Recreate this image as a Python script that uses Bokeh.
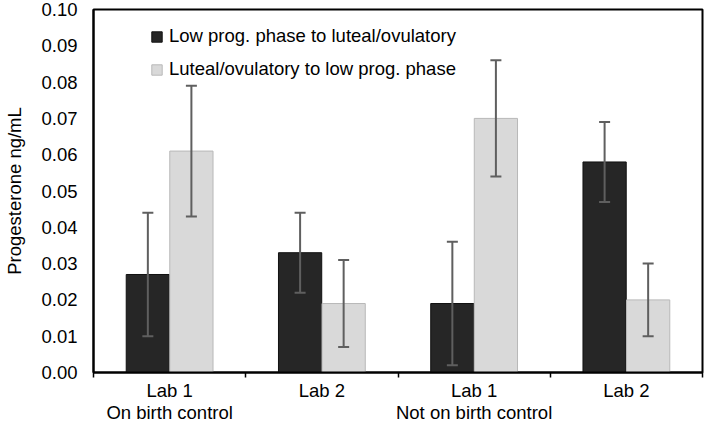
import numpy as np
from bokeh.plotting import figure
from bokeh.models import (Range1d, FixedTicker, ColumnDataSource, Whisker, Legend,
                          LegendItem, LinearAxis, TeeHead)
from bokeh.embed import file_html
from bokeh.resources import INLINE

# ---- data ----
groups = ["Lab 1\nOn birth control", "Lab 2", "Lab 1\nNot on birth control", "Lab 2"]
series_names = ["Low prog. phase to luteal/ovulatory", "Luteal/ovulatory to low prog. phase"]
low_to_luteal = [0.027, 0.033, 0.019, 0.058]
low_to_luteal_lower = [0.010, 0.022, 0.002, 0.047]
low_to_luteal_upper = [0.044, 0.044, 0.036, 0.069]
luteal_to_low = [0.061, 0.019, 0.070, 0.020]
luteal_to_low_lower = [0.043, 0.007, 0.054, 0.010]
luteal_to_low_upper = [0.079, 0.031, 0.086, 0.030]
y_ticks = [0.00, 0.01, 0.02, 0.03, 0.04, 0.05, 0.06, 0.07, 0.08, 0.09, 0.10]
y_tick_labels = ["0.00", "0.01", "0.02", "0.03", "0.04", "0.05", "0.06", "0.07", "0.08", "0.09", "0.10"]
y_title = "Progesterone ng/mL"

FONT = "Liberation Sans"
FS = "18.5px"
DARK = "#262626"
LIGHT = "#d9d9d9"
ERR = "#5f5f5f"

n = len(groups)
centers = np.arange(n) + 0.5
off = 0.143
bw = 0.284

p = figure(width=706, height=430, output_backend="svg", toolbar_location=None,
           x_range=Range1d(0, n), y_range=Range1d(0, 0.10),
           min_border_left=92, min_border_right=4, min_border_top=9, min_border_bottom=58)
p.background_fill_color = "white"
p.border_fill_color = "white"
p.outline_line_color = "black"
p.outline_line_width = 2
p.grid.visible = False

s1 = ColumnDataSource(dict(x=centers - off, top=low_to_luteal,
                           lower=low_to_luteal_lower, upper=low_to_luteal_upper))
s2 = ColumnDataSource(dict(x=centers + off, top=luteal_to_low,
                           lower=luteal_to_low_lower, upper=luteal_to_low_upper))

r1 = p.vbar(x="x", top="top", width=bw, source=s1, fill_color=DARK, line_color="#111111", line_width=1)
r2 = p.vbar(x="x", top="top", width=bw, source=s2, fill_color=LIGHT, line_color="#b8b8b8", line_width=1)

for s in (s1, s2):
    w = Whisker(source=s, base="x", upper="upper", lower="lower", level="overlay",
                line_color=ERR, line_width=2,
                upper_head=TeeHead(size=11, line_color=ERR, line_width=2),
                lower_head=TeeHead(size=11, line_color=ERR, line_width=2))
    p.add_layout(w)

# x axis
xa = p.xaxis[0]
xa.ticker = FixedTicker(ticks=list(centers), minor_ticks=list(range(n + 1)))
xa.major_label_overrides = {float(c): g for c, g in zip(centers, groups)}
xa.major_tick_line_color = None
xa.major_tick_out = 5
xa.major_tick_in = 0
xa.minor_tick_line_color = "black"
xa.minor_tick_line_width = 1.5
xa.minor_tick_out = 5
xa.minor_tick_in = 0
xa.axis_line_color = "black"
xa.axis_line_width = 2
xa.major_label_standoff = 2
xa.major_label_text_line_height = 1.05
xa.major_label_text_font = FONT
xa.major_label_text_font_size = FS
xa.major_label_text_color = "black"

# y axis
ya = p.yaxis[0]
ya.ticker = FixedTicker(ticks=y_ticks)
ya.major_label_overrides = {t: l for t, l in zip(y_ticks, y_tick_labels)}
ya.major_tick_line_color = None
ya.minor_tick_line_color = None
ya.major_tick_out = 0
ya.major_tick_in = 0
ya.axis_line_color = "black"
ya.axis_line_width = 2
ya.major_label_standoff = 16
ya.major_label_text_font = FONT
ya.major_label_text_font_size = FS
ya.major_label_text_color = "black"

# y title: carried by a second, label-only axis whose bounds centre it a bit above the middle
title_axis = LinearAxis(bounds=(0.0135, 0.10), ticker=FixedTicker(ticks=[]),
                        axis_line_color=None, major_tick_line_color=None,
                        minor_tick_line_color=None, major_tick_out=0, major_tick_in=0,
                        minor_tick_out=0, minor_tick_in=0, major_label_standoff=0,
                        axis_label=y_title, axis_label_standoff=14,
                        axis_label_text_font=FONT, axis_label_text_font_size=FS,
                        axis_label_text_font_style="normal", axis_label_text_color="black")
p.add_layout(title_axis, "left")

legend = Legend(items=[LegendItem(label=series_names[0], renderers=[r1]),
                       LegendItem(label=series_names[1], renderers=[r2])],
                location=(57, 292), orientation="vertical",
                background_fill_alpha=0, border_line_color=None,
                padding=0, margin=0, spacing=11,
                glyph_width=13, glyph_height=13, label_height=22, label_standoff=6,
                label_text_font=FONT, label_text_font_size=FS, label_text_color="black")
p.add_layout(legend)

open("out.html", "w").write(file_html(p, INLINE))
